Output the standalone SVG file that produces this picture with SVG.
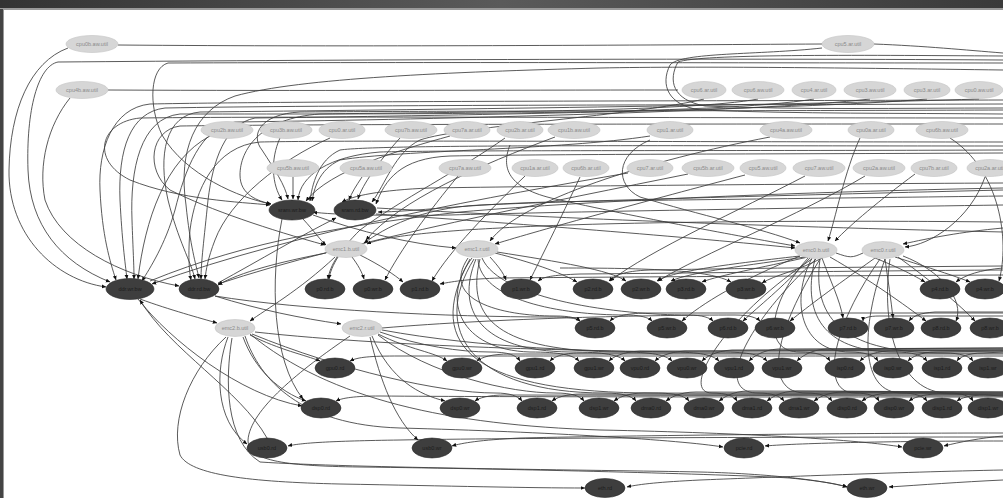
<svg xmlns="http://www.w3.org/2000/svg" width="1003" height="498" viewBox="0 0 1003 498">
<style>
.lt{fill:#d6d6d6;stroke:#c2c2c2;stroke-width:0.6}
.dk{fill:#3e3e3e;stroke:#2a2a2a;stroke-width:0.6}
text{font-family:"Liberation Sans",Arial,sans-serif;font-size:5.5px;text-anchor:middle}
.tl{fill:#8a8a8a}
.td{fill:#1c1c1c}
#edges path{fill:none;stroke:#3c3c3c;stroke-width:0.85;marker-end:url(#ah)}
#edges path.n{marker-end:none}
</style>
<defs>
<linearGradient id="bar" x1="0" y1="0" x2="1" y2="0">
<stop offset="0" stop-color="#333"/><stop offset="0.5" stop-color="#5a5a5a"/><stop offset="1" stop-color="#3a3a3a"/>
</linearGradient>
<marker id="ah" viewBox="0 0 8 8" refX="7.5" refY="4" markerWidth="4.5" markerHeight="4.5" markerUnits="userSpaceOnUse" orient="auto">
<path d="M0,0.5L8,4L0,7.5z" fill="#111"/>
</marker>
</defs>
<rect width="1003" height="498" fill="#fff"/>
<!-- window frame -->
<rect x="0" y="0" width="1003" height="9" fill="url(#bar)"/>
<rect x="0" y="8" width="1003" height="2" fill="#9a9a9a"/>
<rect x="0" y="9" width="3" height="489" fill="#444"/>
<rect x="3" y="10" width="1" height="488" fill="#999"/>

<g id="edges">
<path class="n" d="M118,45 C350,47 650,45 822,44"/>
<path class="n" d="M874,44 C925,46 965,50 1003,53"/>
<path d="M68,48 C30,62 10,110 9,170 C8,235 55,280 106,287"/>
<path d="M1003,60 C700,58 300,60 58,62 C38,66 26,110 28,170 C30,225 60,262 110,282"/>
<path d="M1003,63 C800,63 400,62 168,63 C150,68 148,105 162,135 C185,175 240,198 271,204"/>
<path class="n" d="M108,90 C300,91 500,90 678,90"/>
<path d="M70,98 C48,125 38,165 45,200 C60,245 120,275 179,286"/>
<path d="M1003,70 C850,68 700,66 600,68 C450,72 300,78 235,96 C195,110 178,150 186,205 C190,245 196,265 199,278"/>
<path class="n" d="M822,48 C760,55 680,52 670,65 C660,85 668,105 700,110 C800,114 900,113 1003,114"/>
<path class="n" d="M1003,56 C850,55 700,54 678,62 C668,80 672,100 705,106 C800,110 900,108 1003,108"/>

<path d="M1003,100 C700,101 300,101 150,104 C112,108 98,150 100,190 C102,235 110,262 116,280"/>
<path d="M1003,104 C700,105 320,105 165,108 C130,112 118,150 120,200 C122,240 125,262 127,279"/>
<path d="M979,99 C800,105 400,110 200,112 C165,115 158,155 168,200 C178,240 191,262 195,279"/>
<path d="M927,99 C800,110 420,116 255,118 C225,124 213,160 208,200 C204,240 201,262 201,279"/>
<path d="M870,99 C760,112 400,120 235,122 C200,128 185,170 175,210 C165,245 150,268 142,281"/>
<path d="M814,99 C720,115 400,114 180,114 C140,118 130,170 132,220 C133,250 134,265 134,279"/>
<path d="M758,99 C690,112 450,112 320,114 C260,118 240,150 240,175 C240,195 258,201 271,204"/>
<path d="M704,99 C640,115 460,126 420,140 C395,152 385,185 372,202"/>
<path d="M1003,118 C700,118 300,116 140,118 C100,122 90,160 130,180 C180,200 240,202 270,205"/>
<path d="M1003,124 C700,124 320,124 180,126 C150,130 145,170 170,190 C210,210 270,230 325,245"/>
<path d="M1003,110 C700,111 400,111 300,112 C260,114 250,135 262,150 C275,170 285,185 288,199"/>

<path d="M1003,142 C700,142 350,140 260,142 C215,146 195,190 190,230 C188,255 189,270 191,280"/>
<path d="M1003,146 C700,146 380,144 340,150 C318,160 312,185 310,201"/>
<path d="M1003,150 C750,151 450,150 380,152 C330,156 300,175 298,200"/>
<path d="M1003,153 C800,154 550,154 450,156 C400,158 385,180 376,204"/>

<path d="M210,136 C165,160 145,220 138,279"/>
<path d="M280,138 C270,160 272,185 282,200"/>
<path d="M330,138 C280,160 230,200 215,240 C208,258 206,270 205,279"/>
<path d="M400,138 C380,160 362,185 358,199"/>
<path d="M450,136 C400,150 330,170 306,201"/>
<path d="M505,138 C460,170 400,200 360,230 C340,250 330,265 328,279"/>
<path d="M555,137 C480,165 400,200 366,240"/>
<path d="M650,136 C560,150 400,150 340,160 C318,170 314,190 312,201"/>
<path d="M770,137 C650,160 520,200 490,241"/>
<path d="M860,138 C845,170 835,220 828,241"/>
<path d="M950,138 C1000,170 1010,240 999,281"/>
<path d="M510,145 C500,170 510,190 560,200 C650,220 750,238 795,246"/>
<path d="M650,140 C615,155 615,185 640,197 C700,215 760,228 800,243"/>

<path d="M293,177 L293,199"/>
<path d="M362,177 C356,186 352,192 349,200"/>
<path d="M458,176 C430,210 400,250 385,280"/>
<path d="M525,176 C490,210 450,250 432,281"/>
<path d="M580,177 C560,220 540,260 530,280"/>
<path d="M628,173 C500,195 300,230 152,284"/>
<path d="M688,174 C560,200 350,240 218,284"/>
<path d="M745,175 C650,200 540,230 495,244"/>
<path d="M805,176 C740,210 650,250 610,281"/>
<path d="M865,176 C800,215 700,255 658,281"/>
<path d="M915,174 C880,200 850,225 835,241"/>
<path d="M985,177 C970,220 930,245 905,247"/>

<path d="M1003,183 C800,184 550,186 430,188 C380,190 352,196 342,202"/>
<path d="M1003,190 C800,195 600,200 480,205 C420,208 385,228 364,243"/>
<path d="M1003,196 C850,198 650,200 550,202 C470,204 410,212 378,212"/>
<path d="M1003,205 C800,208 550,212 450,215 C400,216 330,215 313,212"/>
<path d="M376,214 C500,222 700,238 795,248"/>
<path d="M313,215 C360,232 410,244 456,248"/>
<path d="M303,219 C315,232 320,240 326,245"/>
<path d="M218,283 C260,260 300,236 336,218"/>
<path class="n" d="M150,281 C250,240 350,225 460,212 C600,200 800,192 1003,188"/>
<path d="M1003,228 C960,232 930,238 903,244"/>
<path class="n" d="M836,253 C850,258 852,258 863,253"/>
<path class="n" d="M377,208 C500,215 700,225 1003,232"/>
<path d="M1003,222 C800,220 600,222 500,228 C420,232 380,238 367,244"/>
<path d="M282,219 C270,280 272,360 303,399"/>

<path d="M338,257 C333,265 330,272 329,279"/>
<path d="M352,257 C358,265 362,272 364,279"/>
<path d="M360,255 C380,265 395,275 403,282"/>
<path d="M1003,275 C800,276 600,277 500,278 C470,279 455,281 440,284"/>
<path d="M326,253 C280,262 240,272 218,285"/>
<path d="M335,257 C300,290 265,310 250,321"/>
<path d="M140,299 C170,310 200,318 217,323"/>
<path d="M215,296 C260,310 300,318 341,324"/>

<path d="M490,257 C498,266 503,272 506,280"/>
<path d="M495,253 C530,262 560,272 577,282"/>
<path d="M1003,270 C850,271 700,273 580,274 C552,275 543,277 538,281"/>
<path d="M1003,266 C880,267 760,268 650,270 C622,271 614,276 609,281"/>
<path d="M497,252 C560,262 610,270 626,281"/>
<path d="M800,256 C720,265 670,272 657,281"/>
<path d="M805,257 C750,265 690,272 671,281"/>
<path d="M808,257 C760,268 720,275 702,282"/>
<path d="M560,268 C650,268 710,270 731,282"/>
<path d="M822,258 C800,270 775,275 762,283"/>
<path d="M875,258 C900,268 915,276 925,282"/>
<path d="M1003,268 C980,270 965,275 956,282"/>
<path d="M895,257 C930,268 955,276 970,282"/>

<path d="M822,258 C830,280 840,300 843,318"/>
<path d="M885,259 C888,280 891,300 893,318"/>
<path d="M810,258 C780,290 760,305 743,321"/>
<path d="M875,258 C830,290 810,305 790,321"/>
<path d="M830,257 C870,280 905,305 926,321"/>
<path d="M898,257 C930,280 960,305 975,321"/>
<path d="M903,256 C940,270 965,300 956,321"/>
<path d="M800,256 C740,280 700,305 682,321"/>
<path d="M468,258 C440,300 500,316 555,316 C570,316 577,318 580,321"/>
<path d="M1003,313 L650,313 C628,313 615,316 610,321"/>
<path d="M478,259 C480,300 560,315 625,315 C642,315 649,318 652,321"/>
<path d="M482,258 C500,300 620,315 688,315 C703,315 710,318 713,321"/>
<path d="M382,328 C500,318 650,315 735,315 C750,315 757,318 760,321"/>
<path d="M1003,312 L935,312 C920,313 913,316 909,321"/>
<path d="M215,296 C300,310 450,317 550,317 C568,317 576,318 580,321"/>
<path d="M1003,316 L880,316 C868,316 863,318 863,321"/>

<path d="M250,335 C280,350 305,355 320,361"/>
<path d="M378,334 C410,350 435,352 447,361"/>
<path d="M380,332 C420,346 460,352 490,352 C508,352 516,355 520,361"/>
<path d="M472,258 C440,300 460,350 530,352 C560,352 573,355 579,361"/>
<path d="M476,259 C455,310 480,351 570,352 C605,352 619,355 625,361"/>
<path d="M480,259 C465,320 500,351 620,352 C652,352 666,355 672,361"/>
<path d="M382,330 C480,348 600,352 670,352 C700,352 713,355 719,361"/>
<path d="M255,332 C400,348 620,352 720,352 C750,352 761,355 767,361"/>
<path d="M808,258 C770,300 760,352 800,352 C815,352 826,355 830,361"/>
<path d="M812,258 C790,300 800,352 850,352 C864,352 874,355 878,361"/>
<path d="M815,259 C800,320 830,352 895,352 C912,352 922,355 927,361"/>
<path d="M820,259 C810,330 860,353 945,353 C960,353 969,356 973,361"/>
<path d="M1003,356 C800,356 500,356 400,356 C370,356 358,357 350,361"/>
<path d="M1003,354 L510,354 C492,354 482,357 477,361"/>
<path d="M1003,353 L580,353 C562,353 554,357 550,361"/>
<path d="M1003,351 L640,351 C622,352 613,357 609,361"/>
<path d="M1003,350 L685,351 C668,352 659,357 655,361"/>
<path d="M1003,349 L732,350 C715,351 706,357 702,361"/>
<path d="M1003,348 L778,349 C762,350 753,357 749,361"/>
<path d="M1003,348 L826,349 C810,350 801,357 797,361"/>
<path d="M1003,350 L888,351 C872,352 864,357 860,361"/>
<path d="M1003,351 L936,352 C920,352 912,357 908,361"/>
<path d="M1003,352 L983,353 C968,353 960,357 957,361"/>

<path d="M243,337 C255,370 280,392 306,401"/>
<path d="M138,299 C170,340 240,395 302,406"/>
<path d="M372,336 C390,380 420,395 445,401"/>
<path d="M252,334 C340,370 440,393 495,393 C510,393 518,396 522,401"/>
<path d="M378,335 C430,375 510,393 555,393 C572,393 580,396 584,401"/>
<path d="M474,259 C430,330 470,393 605,393 C622,393 632,396 636,401"/>
<path d="M470,259 C420,350 480,393 655,393 C675,393 685,396 689,401"/>
<path d="M812,259 C720,320 680,393 712,393 C726,393 734,396 737,401"/>
<path d="M816,259 C740,330 715,393 758,393 C772,393 780,396 784,401"/>
<path d="M820,259 C770,340 765,393 806,393 C820,393 828,396 832,401"/>
<path d="M880,259 C830,330 820,393 855,393 C868,393 876,396 879,401"/>
<path d="M885,259 C860,330 860,393 902,393 C915,393 923,396 927,401"/>
<path d="M890,259 C880,330 900,393 948,393 C962,393 970,396 973,401"/>
<path d="M1003,397 C800,397 500,397 380,396 C355,396 342,398 336,401"/>
<path d="M1003,396 L505,395 C488,395 479,398 475,401"/>
<path d="M1003,395 L582,394 C565,394 556,398 552,401"/>
<path d="M1003,394 L644,393 C627,393 618,398 614,401"/>
<path d="M1003,393 L696,392 C679,392 670,398 666,401"/>
<path d="M1003,392 L749,391 C732,391 723,398 719,401"/>
<path d="M1003,392 L797,391 C780,391 771,398 767,401"/>
<path d="M1003,393 L844,392 C827,392 818,398 814,401"/>
<path d="M1003,394 L892,393 C875,393 866,398 862,401"/>
<path d="M1003,395 L939,394 C922,394 913,398 909,401"/>
<path d="M1003,396 L985,395 C970,395 961,398 957,401"/>

<path d="M228,337 C215,370 215,420 247,444"/>
<path d="M1003,437 C800,437 500,438 400,440 C330,441 300,443 288,446"/>
<path d="M370,337 C380,380 395,420 418,440"/>
<path d="M1003,433 C850,433 600,436 520,438 C480,440 462,443 452,446"/>
<path d="M245,336 C260,380 300,425 400,428 C550,432 680,440 723,447"/>
<path d="M1003,441 C900,441 800,443 765,446"/>
<path d="M250,334 C330,400 450,425 600,430 C750,433 860,440 902,447"/>
<path d="M1003,436 C980,438 960,442 944,446"/>
<path d="M226,337 C190,370 170,420 180,455 C190,475 250,482 340,484 C450,486 530,488 585,488"/>
<path d="M1003,470 C900,472 750,478 700,480 C660,482 640,484 627,487"/>
<path d="M232,338 C225,380 225,440 260,462 C350,468 600,470 700,472 C780,474 830,482 847,487"/>
<path d="M350,336 C300,370 250,410 248,440 C248,460 280,466 360,467 C520,469 720,474 790,478 C820,481 838,484 847,487"/>
<path d="M1003,480 C960,482 920,485 889,487"/>
<path d="M267,438 C240,390 170,350 140,300"/>
</g>

<!-- upper source nodes -->
<g id="a1"><ellipse class="lt" cx="92" cy="44" rx="26" ry="8.5"/><text class="tl" x="92" y="46">cpu0b.aw.util</text></g>
<g id="a2"><ellipse class="lt" cx="848" cy="44" rx="26" ry="8.5"/><text class="tl" x="848" y="46">cpu5.ar.util</text></g>
<g id="b0"><ellipse class="lt" cx="82" cy="90" rx="26" ry="8.5"/><text class="tl" x="82" y="92">cpu4b.aw.util</text></g>
<g id="b1"><ellipse class="lt" cx="704" cy="90" rx="22" ry="8.5"/><text class="tl" x="704" y="92">cpu6.ar.util</text></g>
<g id="b2"><ellipse class="lt" cx="758" cy="90" rx="26" ry="8.5"/><text class="tl" x="758" y="92">cpu6.aw.util</text></g>
<g id="b3"><ellipse class="lt" cx="814" cy="90" rx="22" ry="8.5"/><text class="tl" x="814" y="92">cpu4.ar.util</text></g>
<g id="b4"><ellipse class="lt" cx="870" cy="90" rx="26" ry="8.5"/><text class="tl" x="870" y="92">cpu3.aw.util</text></g>
<g id="b5"><ellipse class="lt" cx="927" cy="90" rx="23" ry="8.5"/><text class="tl" x="927" y="92">cpu3.ar.util</text></g>
<g id="b6"><ellipse class="lt" cx="979" cy="90" rx="24" ry="8.5"/><text class="tl" x="979" y="92">cpu0.aw.util</text></g>

<g id="c1"><ellipse class="lt" cx="227" cy="130" rx="26" ry="8.5"/><text class="tl" x="227" y="132">cpu2b.aw.util</text></g>
<g id="c2"><ellipse class="lt" cx="286" cy="130" rx="26" ry="8.5"/><text class="tl" x="286" y="132">cpu3b.aw.util</text></g>
<g id="c3"><ellipse class="lt" cx="342" cy="130" rx="23" ry="8.5"/><text class="tl" x="342" y="132">cpu0.ar.util</text></g>
<g id="c4"><ellipse class="lt" cx="411" cy="130" rx="26" ry="8.5"/><text class="tl" x="411" y="132">cpu7b.aw.util</text></g>
<g id="c5"><ellipse class="lt" cx="467" cy="130" rx="23" ry="8.5"/><text class="tl" x="467" y="132">cpu7a.ar.util</text></g>
<g id="c6"><ellipse class="lt" cx="520" cy="130" rx="23" ry="8.5"/><text class="tl" x="520" y="132">cpu2b.ar.util</text></g>
<g id="c7"><ellipse class="lt" cx="574" cy="130" rx="26" ry="8.5"/><text class="tl" x="574" y="132">cpu1b.aw.util</text></g>
<g id="c8"><ellipse class="lt" cx="670" cy="130" rx="23" ry="8.5"/><text class="tl" x="670" y="132">cpu1.ar.util</text></g>
<g id="c9"><ellipse class="lt" cx="786" cy="130" rx="26" ry="8.5"/><text class="tl" x="786" y="132">cpu4a.aw.util</text></g>
<g id="c10"><ellipse class="lt" cx="871" cy="130" rx="23" ry="8.5"/><text class="tl" x="871" y="132">cpu0a.ar.util</text></g>
<g id="c11"><ellipse class="lt" cx="942" cy="130" rx="26" ry="8.5"/><text class="tl" x="942" y="132">cpu6b.aw.util</text></g>

<g id="d1"><ellipse class="lt" cx="293" cy="168" rx="26" ry="8.5"/><text class="tl" x="293" y="170">cpu5b.aw.util</text></g>
<g id="d2"><ellipse class="lt" cx="366" cy="168" rx="26" ry="8.5"/><text class="tl" x="366" y="170">cpu5a.aw.util</text></g>
<g id="d3"><ellipse class="lt" cx="465" cy="168" rx="26" ry="8.5"/><text class="tl" x="465" y="170">cpu7a.aw.util</text></g>
<g id="d4"><ellipse class="lt" cx="535" cy="168" rx="23" ry="8.5"/><text class="tl" x="535" y="170">cpu1a.ar.util</text></g>
<g id="d5"><ellipse class="lt" cx="586" cy="168" rx="23" ry="8.5"/><text class="tl" x="586" y="170">cpu6b.ar.util</text></g>
<g id="d6"><ellipse class="lt" cx="650" cy="168" rx="23" ry="8.5"/><text class="tl" x="650" y="170">cpu7.ar.util</text></g>
<g id="d7"><ellipse class="lt" cx="708" cy="168" rx="26" ry="8.5"/><text class="tl" x="708" y="170">cpu5b.ar.util</text></g>
<g id="d8"><ellipse class="lt" cx="763" cy="168" rx="23" ry="8.5"/><text class="tl" x="763" y="170">cpu5.aw.util</text></g>
<g id="d9"><ellipse class="lt" cx="819" cy="168" rx="26" ry="8.5"/><text class="tl" x="819" y="170">cpu7.aw.util</text></g>
<g id="d10"><ellipse class="lt" cx="879" cy="168" rx="26" ry="8.5"/><text class="tl" x="879" y="170">cpu2a.aw.util</text></g>
<g id="d11"><ellipse class="lt" cx="934" cy="168" rx="23" ry="8.5"/><text class="tl" x="934" y="170">cpu7b.ar.util</text></g>
<g id="d12"><ellipse class="lt" cx="990" cy="168" rx="23" ry="8.5"/><text class="tl" x="990" y="170">cpu2a.ar.util</text></g>

<!-- controller nodes -->
<g id="f1"><ellipse class="lt" cx="346" cy="249" rx="21" ry="8.5"/><text class="tl" x="346" y="251">emc1.b.util</text></g>
<g id="f2"><ellipse class="lt" cx="477" cy="249" rx="21" ry="8.5"/><text class="tl" x="477" y="251">emc1.r.util</text></g>
<g id="f3"><ellipse class="lt" cx="816" cy="250" rx="21" ry="8.5"/><text class="tl" x="816" y="252">emc0.b.util</text></g>
<g id="f4"><ellipse class="lt" cx="883" cy="250" rx="21" ry="8.5"/><text class="tl" x="883" y="252">emc0.r.util</text></g>
<g id="h1"><ellipse class="lt" cx="235" cy="328" rx="20" ry="8.5"/><text class="tl" x="235" y="330">emc2.b.util</text></g>
<g id="h2"><ellipse class="lt" cx="362" cy="328" rx="20" ry="8.5"/><text class="tl" x="362" y="330">emc2.r.util</text></g>

<!-- bandwidth nodes -->
<g id="e1"><ellipse class="dk" cx="292" cy="210" rx="23" ry="10"/><text class="td" x="292" y="212">sram.wr.bw</text></g>
<g id="e2"><ellipse class="dk" cx="355" cy="210" rx="21" ry="10"/><text class="td" x="355" y="212">sram.rd.bw</text></g>

<g id="g1"><ellipse class="dk" cx="130" cy="289" rx="24" ry="10.5"/><text class="td" x="130" y="291">ddr.wr.bw</text></g>
<g id="g2"><ellipse class="dk" cx="199" cy="289" rx="20" ry="10"/><text class="td" x="199" y="291">ddr.rd.bw</text></g>
<g id="g3"><ellipse class="dk" cx="325" cy="289" rx="20" ry="10"/><text class="td" x="325" y="291">p0.rd.b</text></g>
<g id="g4"><ellipse class="dk" cx="373" cy="289" rx="20" ry="10"/><text class="td" x="373" y="291">p0.wr.b</text></g>
<g id="g5"><ellipse class="dk" cx="420" cy="289" rx="20" ry="10"/><text class="td" x="420" y="291">p1.rd.b</text></g>
<g id="g6"><ellipse class="dk" cx="521" cy="289" rx="20" ry="10"/><text class="td" x="521" y="291">p1.wr.b</text></g>
<g id="g7"><ellipse class="dk" cx="593" cy="289" rx="20" ry="10"/><text class="td" x="593" y="291">p2.rd.b</text></g>
<g id="g8"><ellipse class="dk" cx="641" cy="289" rx="20" ry="10"/><text class="td" x="641" y="291">p2.wr.b</text></g>
<g id="g9"><ellipse class="dk" cx="686" cy="289" rx="20" ry="10"/><text class="td" x="686" y="291">p3.rd.b</text></g>
<g id="g10"><ellipse class="dk" cx="746" cy="289" rx="20" ry="10"/><text class="td" x="746" y="291">p3.wr.b</text></g>
<g id="g11"><ellipse class="dk" cx="940" cy="289" rx="20" ry="10"/><text class="td" x="940" y="291">p4.rd.b</text></g>
<g id="g12"><ellipse class="dk" cx="985" cy="289" rx="20" ry="10"/><text class="td" x="985" y="291">p4.wr.b</text></g>

<g id="i1"><ellipse class="dk" cx="595" cy="328" rx="20" ry="10"/><text class="td" x="595" y="330">p5.rd.b</text></g>
<g id="i2"><ellipse class="dk" cx="667" cy="328" rx="20" ry="10"/><text class="td" x="667" y="330">p5.wr.b</text></g>
<g id="i3"><ellipse class="dk" cx="728" cy="328" rx="20" ry="10"/><text class="td" x="728" y="330">p6.rd.b</text></g>
<g id="i4"><ellipse class="dk" cx="775" cy="328" rx="20" ry="10"/><text class="td" x="775" y="330">p6.wr.b</text></g>
<g id="i5"><ellipse class="dk" cx="848" cy="328" rx="20" ry="10"/><text class="td" x="848" y="330">p7.rd.b</text></g>
<g id="i6"><ellipse class="dk" cx="894" cy="328" rx="20" ry="10"/><text class="td" x="894" y="330">p7.wr.b</text></g>
<g id="i7"><ellipse class="dk" cx="941" cy="328" rx="20" ry="10"/><text class="td" x="941" y="330">p8.rd.b</text></g>
<g id="i8"><ellipse class="dk" cx="990" cy="328" rx="20" ry="10"/><text class="td" x="990" y="330">p8.wr.b</text></g>

<g id="j1"><ellipse class="dk" cx="335" cy="368" rx="20" ry="10"/><text class="td" x="335" y="370">gpu0.rd</text></g>
<g id="j2"><ellipse class="dk" cx="462" cy="368" rx="20" ry="10"/><text class="td" x="462" y="370">gpu0.wr</text></g>
<g id="j3"><ellipse class="dk" cx="535" cy="368" rx="20" ry="10"/><text class="td" x="535" y="370">gpu1.rd</text></g>
<g id="j4"><ellipse class="dk" cx="594" cy="368" rx="20" ry="10"/><text class="td" x="594" y="370">gpu1.wr</text></g>
<g id="j5"><ellipse class="dk" cx="640" cy="368" rx="20" ry="10"/><text class="td" x="640" y="370">vpu0.rd</text></g>
<g id="j6"><ellipse class="dk" cx="687" cy="368" rx="20" ry="10"/><text class="td" x="687" y="370">vpu0.wr</text></g>
<g id="j7"><ellipse class="dk" cx="734" cy="368" rx="20" ry="10"/><text class="td" x="734" y="370">vpu1.rd</text></g>
<g id="j8"><ellipse class="dk" cx="782" cy="368" rx="20" ry="10"/><text class="td" x="782" y="370">vpu1.wr</text></g>
<g id="j9"><ellipse class="dk" cx="845" cy="368" rx="20" ry="10"/><text class="td" x="845" y="370">isp0.rd</text></g>
<g id="j10"><ellipse class="dk" cx="893" cy="368" rx="20" ry="10"/><text class="td" x="893" y="370">isp0.wr</text></g>
<g id="j11"><ellipse class="dk" cx="942" cy="368" rx="20" ry="10"/><text class="td" x="942" y="370">isp1.rd</text></g>
<g id="j12"><ellipse class="dk" cx="988" cy="368" rx="20" ry="10"/><text class="td" x="988" y="370">isp1.wr</text></g>

<g id="k1"><ellipse class="dk" cx="321" cy="408" rx="20" ry="10"/><text class="td" x="321" y="410">dsp0.rd</text></g>
<g id="k2"><ellipse class="dk" cx="460" cy="408" rx="20" ry="10"/><text class="td" x="460" y="410">dsp0.wr</text></g>
<g id="k3"><ellipse class="dk" cx="537" cy="408" rx="20" ry="10"/><text class="td" x="537" y="410">dsp1.rd</text></g>
<g id="k4"><ellipse class="dk" cx="599" cy="408" rx="20" ry="10"/><text class="td" x="599" y="410">dsp1.wr</text></g>
<g id="k5"><ellipse class="dk" cx="651" cy="408" rx="20" ry="10"/><text class="td" x="651" y="410">dma0.rd</text></g>
<g id="k6"><ellipse class="dk" cx="704" cy="408" rx="20" ry="10"/><text class="td" x="704" y="410">dma0.wr</text></g>
<g id="k7"><ellipse class="dk" cx="752" cy="408" rx="20" ry="10"/><text class="td" x="752" y="410">dma1.rd</text></g>
<g id="k8"><ellipse class="dk" cx="799" cy="408" rx="20" ry="10"/><text class="td" x="799" y="410">dma1.wr</text></g>
<g id="k9"><ellipse class="dk" cx="847" cy="408" rx="20" ry="10"/><text class="td" x="847" y="410">disp0.rd</text></g>
<g id="k10"><ellipse class="dk" cx="894" cy="408" rx="20" ry="10"/><text class="td" x="894" y="410">disp0.wr</text></g>
<g id="k11"><ellipse class="dk" cx="942" cy="408" rx="20" ry="10"/><text class="td" x="942" y="410">disp1.rd</text></g>
<g id="k12"><ellipse class="dk" cx="988" cy="408" rx="20" ry="10"/><text class="td" x="988" y="410">disp1.wr</text></g>

<g id="l1"><ellipse class="dk" cx="267" cy="448" rx="20" ry="10"/><text class="td" x="267" y="450">usb0.rd</text></g>
<g id="l2"><ellipse class="dk" cx="432" cy="448" rx="20" ry="10"/><text class="td" x="432" y="450">usb0.wr</text></g>
<g id="l3"><ellipse class="dk" cx="744" cy="448" rx="20" ry="10"/><text class="td" x="744" y="450">pcie.rd</text></g>
<g id="l4"><ellipse class="dk" cx="923" cy="448" rx="20" ry="10"/><text class="td" x="923" y="450">pcie.wr</text></g>
<g id="m1"><ellipse class="dk" cx="605" cy="488" rx="20" ry="9.5"/><text class="td" x="605" y="490">eth.rd</text></g>
<g id="m2"><ellipse class="dk" cx="867" cy="488" rx="20" ry="9.5"/><text class="td" x="867" y="490">eth.wr</text></g>
</svg>
